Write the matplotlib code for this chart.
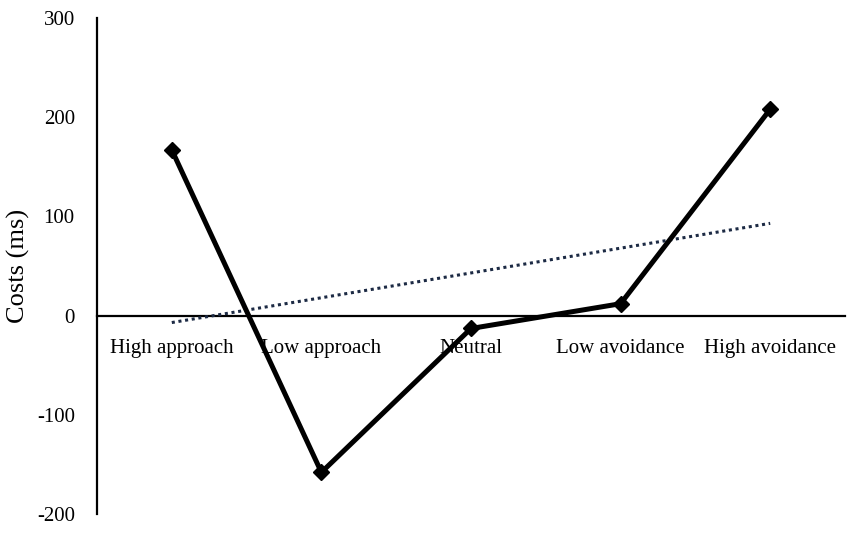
"""Costs (ms) by approach/avoidance category with linear trend."""

import matplotlib
import matplotlib.pyplot as plt

matplotlib.use("Agg")

plt.rcParams["font.family"] = ["Liberation Serif", "DejaVu Serif"]
plt.rcParams["axes.unicode_minus"] = False

CATEGORIES = ["High approach", "Low approach", "Neutral", "Low avoidance", "High avoidance"]
COSTS = [167, -158, -13, 12, 208]
# trend line read at the first and last category
TREND_X = [1, 5]
TREND_Y = [-7, 93]


def main():
    fig = plt.figure(figsize=(8.51, 5.35), dpi=100)
    ax = fig.add_axes([97 / 851, 21 / 535, (845 - 97) / 851, (514 - 18) / 535])

    x = list(range(1, len(CATEGORIES) + 1))
    ax.plot(x, COSTS, color="black", lw=3.6, marker="D", ms=8.5, zorder=5, clip_on=False)
    ax.plot(TREND_X, TREND_Y, color="#1c2a44", lw=2.2, ls=(0, (1, 1.2)), zorder=4)

    ax.set_xlim(0.5, 5.5)
    ax.set_ylim(-200, 300)
    ax.set_yticks([-200, -100, 0, 100, 200, 300])
    ax.set_xticks(x)
    ax.set_xticklabels(CATEGORIES)
    ax.tick_params(axis="y", length=0, labelsize=15, pad=16)
    ax.tick_params(axis="x", length=0, labelsize=15, pad=17)
    for lab in ax.get_xticklabels():
        lab.set_zorder(1)

    ax.spines["top"].set_visible(False)
    ax.spines["right"].set_visible(False)
    ax.spines["bottom"].set_position(("data", 0))
    ax.spines["left"].set_linewidth(1.6)
    ax.spines["bottom"].set_linewidth(1.6)

    ax.set_ylabel("Costs (ms)", fontsize=19)
    ax.yaxis.set_label_coords(-67 / 748, 0.5)

    fig.savefig("out.png", dpi=100)
    plt.close(fig)


if __name__ == "__main__":
    main()
